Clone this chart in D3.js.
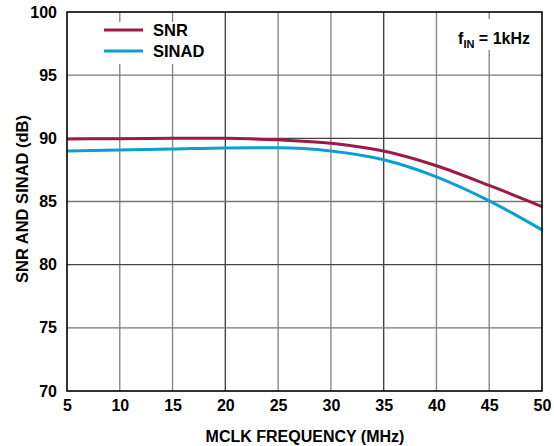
<!DOCTYPE html>
<html><head><meta charset="utf-8">
<script src="https://cdn.jsdelivr.net/npm/d3@7"></script>
<style>body{margin:0;background:#fff}text{font-family:"Liberation Sans",Arial,sans-serif;font-weight:bold;fill:#000}</style>
</head><body><svg id="c" width="554" height="446"></svg>
<script>
const freq = [5, 10, 15, 20, 25, 30, 35, 40, 45, 50];
const snr = [89.95, 89.97, 90.0, 90.0, 89.88, 89.62, 89.0, 87.83, 86.27, 84.6];
const sinad = [88.99, 89.07, 89.15, 89.24, 89.25, 89.0, 88.3, 86.95, 85.05, 82.75];
const xTicks = [5, 10, 15, 20, 25, 30, 35, 40, 45, 50];
const yTicks = [70, 75, 80, 85, 90, 95, 100];
const seriesNames = ["SNR", "SINAD"];
const colors = ["#9e1a46", "#0a9fd3"];

const svg = d3.select("#c");
const L = 67, R = 542, T = 12, B = 391;
const x = d3.scaleLinear().domain([5, 50]).range([L, R]);
const y = d3.scaleLinear().domain([70, 100]).range([B, T]);

const g = svg.append("g");
g.selectAll(".vx").data(xTicks.slice(1, -1)).enter().append("line")
  .attr("x1", d => x(d)).attr("x2", d => x(d)).attr("y1", T).attr("y2", B)
  .attr("stroke", (d, i) => i % 3 === 2 ? "#444" : "#8a8a8a").attr("stroke-width", 1.4);
g.selectAll(".hy").data(yTicks.slice(1, -1)).enter().append("line")
  .attr("y1", d => y(d)).attr("y2", d => y(d)).attr("x1", L).attr("x2", R)
  .attr("stroke", (d, i) => i % 2 === 1 ? "#444" : "#777").attr("stroke-width", 1.4);

svg.append("rect").attr("x", 90).attr("y", 22).attr("width", 128).attr("height", 42).attr("fill", "#fff");
svg.append("rect").attr("x", 440).attr("y", 19).attr("width", 98).attr("height", 31).attr("fill", "#fff");

const line = d3.line().x((d, i) => x(freq[i])).y(d => y(d)).curve(d3.curveMonotoneX);
[snr, sinad].forEach((s, k) => {
  svg.append("path").datum(s).attr("d", line).attr("fill", "none")
    .attr("stroke", colors[k]).attr("stroke-width", 3);
});

svg.append("rect").attr("x", L).attr("y", T).attr("width", R - L).attr("height", B - T)
  .attr("fill", "none").attr("stroke", "#000").attr("stroke-width", 1.6);

const xa = svg.append("g").attr("transform", `translate(0,${B})`)
  .call(d3.axisBottom(x).tickValues(xTicks).tickSize(0).tickPadding(9));
xa.select(".domain").remove();
xa.selectAll("text").style("font-size", "16px").attr("fill", "#000");
const ya = svg.append("g").attr("transform", `translate(${L},0)`)
  .call(d3.axisLeft(y).tickValues(yTicks).tickSize(0).tickPadding(10));
ya.select(".domain").remove();
ya.selectAll("text").style("font-size", "16px").attr("fill", "#000");

svg.append("text").attr("x", 305).attr("y", 442).attr("text-anchor", "middle")
  .style("font-size", "16px").text("MCLK FREQUENCY (MHz)");
svg.append("text").attr("transform", "translate(28,199) rotate(-90)").attr("text-anchor", "middle")
  .style("font-size", "16.5px").text("SNR AND SINAD (dB)");

seriesNames.forEach((n, k) => {
  const yy = 30 + k * 21;
  svg.append("line").attr("x1", 104).attr("x2", 143).attr("y1", yy).attr("y2", yy)
    .attr("stroke", colors[k]).attr("stroke-width", 3);
  svg.append("text").attr("x", 153).attr("y", yy + 6).style("font-size", "16.5px").text(n);
});

const ann = svg.append("text").attr("x", 530).attr("y", 44).attr("text-anchor", "end").style("font-size", "16px");
ann.append("tspan").text("f");
ann.append("tspan").attr("dy", 4).style("font-size", "11px").text("IN");
ann.append("tspan").attr("dy", -4).text(" = 1kHz");
</script></body></html>
